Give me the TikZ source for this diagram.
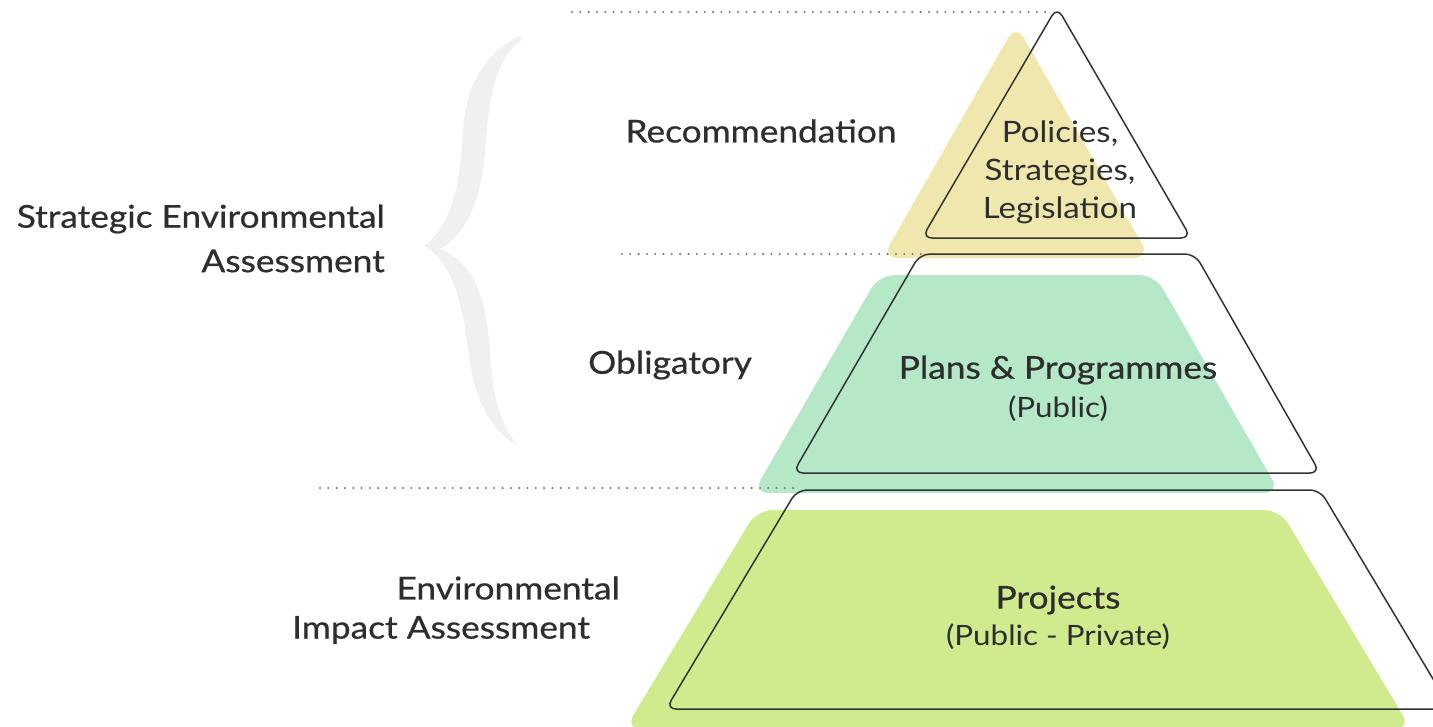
\documentclass[tikz,border=0pt]{standalone}
\usepackage{fontspec}
\setmainfont{Lato}[FakeStretch=1.12]
\newfontfamily\medfont{Lato}[FakeStretch=1.12,FakeBold=0.6]
\definecolor{ink}{HTML}{2E2E2E}
\definecolor{edge}{HTML}{333333}
\definecolor{tierA}{HTML}{F0E7AE}
\definecolor{tierB}{HTML}{B4E8C6}
\definecolor{tierC}{HTML}{D0EA8E}
\definecolor{bracegray}{HTML}{F0F0EE}
\definecolor{dotgray}{HTML}{777777}
\begin{document}
\begin{tikzpicture}[x=1pt,y=-1pt,
  outline/.style={draw=edge,line width=1.5pt,rounded corners=10pt,line join=round},
  tierfill/.style={rounded corners=16pt},
  guide/.style={draw=dotgray,line width=2.3pt,line cap=round,dash pattern=on 0pt off 8.3pt},
  sidelabel/.style={text=ink,font=\medfont\fontsize{31.5}{36}\selectfont,inner sep=0pt},
  tiertext/.style={text=ink,font=\fontsize{29.5}{38}\selectfont,align=center,inner sep=0pt},
  tierhead/.style={text=ink,font=\medfont\fontsize{31.5}{36}\selectfont,inner sep=0pt},
  tiersub/.style={text=ink,font=\fontsize{28}{30}\selectfont,inner sep=0pt}]
\useasboundingbox (0,0) rectangle (1433,726);
\clip (0,0) rectangle (1433,726);

% coloured tiers, each offset from its outline
\fill[tierA,tierfill] (1016,24) -- (1150,258) -- (882,258) -- cycle;
\fill[tierB,tierfill] (879,275) -- (1155,275) -- (1280,493) -- (753,493) -- cycle;
\fill[tierC,tierfill] (757,510) -- (1280,510) -- (1411,729) -- (625,729) -- cycle;

% dotted level guides
\coordinate (g1a) at (572,12);  \coordinate (g1b) at (1052,12);
\coordinate (g2a) at (622,254); \coordinate (g2b) at (922,254);
\coordinate (g3a) at (320,488); \coordinate (g3b) at (800,488);
\draw[guide] (g1a) -- (g1b);
\draw[guide] (g2a) -- (g2b);
\draw[guide] (g3a) -- (g3b);

% outlined pyramid levels
\draw[outline] (1057,7) -- (1191,238) -- (922,238) -- cycle;
\draw[outline] (920,254) -- (1195,254) -- (1320,473) -- (793,473) -- cycle;
\draw[outline] (797,490) -- (1320,490) -- (1451,709) -- (666,709) -- cycle;

% hand-drawn curly brace
\fill[bracegray] (519,36) .. controls (490,50) and (466,80) .. (463,130)
  .. controls (460,185) and (452,225) .. (424,246)
  .. controls (452,262) and (462,300) .. (468,350)
  .. controls (474,400) and (490,430) .. (518,446)
  .. controls (500,425) and (492,395) .. (490,350)
  .. controls (486,290) and (470,262) .. (440,249)
  .. controls (468,232) and (482,200) .. (486,140)
  .. controls (490,85) and (500,55) .. (522,40) -- cycle;

% side labels
\node[sidelabel,anchor=east] (sea1) at (385,219) {Strategic Environmental};
\node[sidelabel,anchor=east] (sea2) at (385,261) {Assessment};
\node[sidelabel] (rec) at (761,131) {Recommendation};
\node[sidelabel] (obl) at (670,365) {Obligatory};
\node[sidelabel,anchor=east] (eia1) at (620,588) {Environmental};
\node[sidelabel,anchor=west] (eia2) at (292,630) {Impact Assessment};

% level contents
\node[tiertext] (pol) at (1060,172) {Policies,\\Strategies,\\Legislation};
\node[tierhead] (plans) at (1058,370) {Plans \& Programmes};
\node[tiersub] (plansub) at (1058,409) {(Public)};
\node[tierhead] (proj) at (1058,600) {Projects};
\node[tiersub] (projsub) at (1058,637) {(Public - Private)};
\end{tikzpicture}
\end{document}
